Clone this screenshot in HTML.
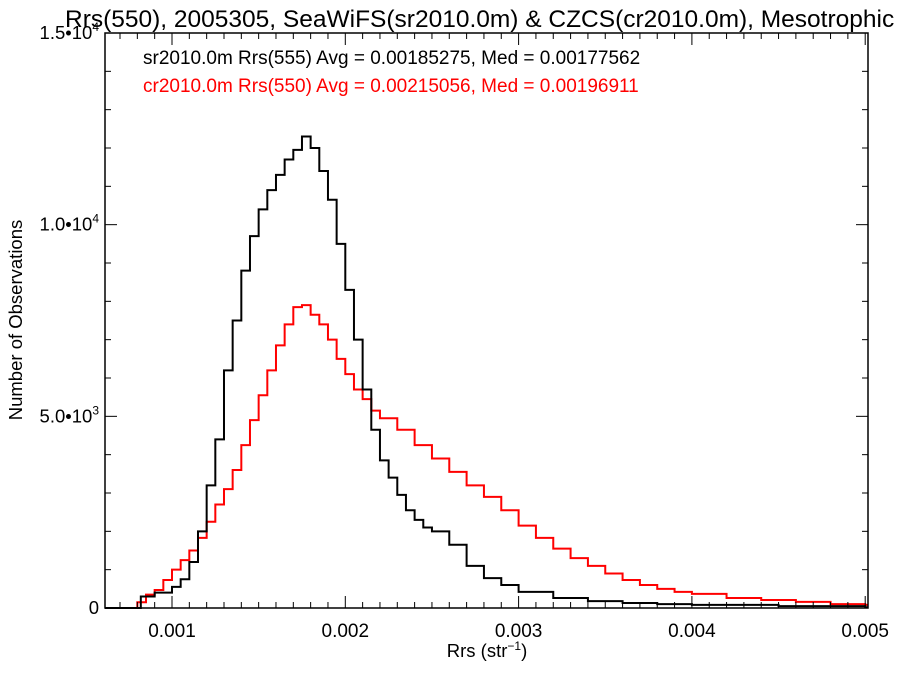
<!DOCTYPE html>
<html><head><meta charset="utf-8"><style>
body{margin:0;background:#fff;}
svg text{font-family:"Liberation Sans",sans-serif;}
</style></head><body>
<svg id="chart" width="900" height="675" viewBox="0 0 900 675" xmlns="http://www.w3.org/2000/svg">
<rect width="900" height="675" fill="#fff"/>
<text x="65" y="27" font-size="24.5" fill="#000">Rrs(550), 2005305, SeaWiFS(sr2010.0m) &amp; CZCS(cr2010.0m), Mesotrophic</text>
<g id="plot"></g>
<text x="143" y="64" font-size="19" fill="#000">sr2010.0m Rrs(555) Avg = 0.00185275, Med = 0.00177562</text>
<text x="143" y="92" font-size="19" fill="#ff0000">cr2010.0m Rrs(550) Avg = 0.00215056, Med = 0.00196911</text>
<text transform="translate(22,320) rotate(-90)" text-anchor="middle" font-size="18.5">Number of Observations</text>
<text x="487" y="657" text-anchor="middle" font-size="18.5">Rrs (str<tspan dy="-7" font-size="12">−1</tspan><tspan dy="7">)</tspan></text>
</svg>
<script>
const blackX=[0.0008,0.00082,0.0009,0.001,0.00105,0.0011,0.00115,0.0012,0.00125,0.0013,0.00135,0.0014,0.00145,0.0015,0.00155,0.0016,0.00165,0.0017,0.00175,0.0018,0.00185,0.0019,0.00195,0.002,0.00205,0.0021,0.00215,0.0022,0.00225,0.0023,0.00235,0.0024,0.00245,0.0025,0.0026,0.0027,0.0028,0.0029,0.003,0.0032,0.0034,0.0036,0.0038,0.004,0.0045,0.005];
const blackY=[0,300,400,550,750,1200,2000,3200,4400,6200,7500,8800,9700,10400,10900,11300,11700,11950,12300,12000,11400,10650,9500,8300,7000,5700,4650,3850,3400,2950,2550,2300,2100,2000,1650,1100,780,600,420,260,180,130,100,80,50,20];
const redX=[0.0008,0.00085,0.0009,0.00095,0.001,0.00105,0.0011,0.00115,0.0012,0.00125,0.0013,0.00135,0.0014,0.00145,0.0015,0.00155,0.0016,0.00165,0.0017,0.00175,0.0018,0.00185,0.0019,0.00195,0.002,0.00205,0.0021,0.00215,0.0022,0.0023,0.0024,0.0025,0.0026,0.0027,0.0028,0.0029,0.003,0.0031,0.0032,0.0033,0.0034,0.0035,0.0036,0.0037,0.0038,0.0039,0.004,0.0042,0.0044,0.0046,0.0048,0.005];
const redY=[150,350,470,730,1000,1250,1500,1830,2250,2700,3100,3600,4250,4900,5550,6200,6850,7400,7850,7900,7650,7400,7000,6500,6100,5700,5450,5150,4950,4650,4250,3900,3550,3200,2900,2550,2150,1830,1550,1300,1100,900,730,600,500,420,370,260,210,160,100,80];
const xTicks=[0.001,0.002,0.003,0.004,0.005];
const xTickLabels=["0.001","0.002","0.003","0.004","0.005"];
const yTicks=[0,5000,10000,15000];
const yTickLabels=[["0",""],["5.0•10","3"],["1.0•10","4"],["1.5•10","4"]];
const L=105,R=868,T=33,B=608;
const sx=v=>172+(v-0.001)*173300;
const sy=v=>B-(v/15000)*(B-T);
const NS="http://www.w3.org/2000/svg";
const g=document.getElementById('plot');
function mk(t,a){const e=document.createElementNS(NS,t);for(const k in a)e.setAttribute(k,a[k]);g.appendChild(e);return e;}
function steps(xs,ys,color,name){
  let d="M"+L+","+B+" L"+sx(xs[0])+","+B;
  for(let i=0;i<xs.length;i++){
    const x0=sx(xs[i]);const x1=i<xs.length-1?sx(xs[i+1]):R;
    d+=" L"+x0+","+sy(ys[i])+" L"+x1+","+sy(ys[i]);
  }
  const p=mk('path',{d:d,fill:'none',stroke:color,'stroke-width':2});
  
  
}
steps(redX,redY,'#ff0000','czcs-series');
steps(blackX,blackY,'#000000','seawifs-series');
const frame=mk('rect',{x:L,y:T,width:R-L,height:B-T,fill:'none',stroke:'#000','stroke-width':1.5});


for(let v=0.0007;v<=0.00501;v+=0.0001){
  const x=sx(v);if(x<L||x>R)continue;
  const major=Math.abs(v*1000-Math.round(v*1000))<1e-6;
  const len=major?12:6;
  mk('line',{x1:x,y1:B,x2:x,y2:B-len,stroke:'#000','stroke-width':1});
  mk('line',{x1:x,y1:T,x2:x,y2:T+len,stroke:'#000','stroke-width':1});
}
xTicks.forEach((v,i)=>{
  const t=mk('text',{x:sx(v),y:637,'text-anchor':'middle','font-size':19});
  t.textContent=xTickLabels[i];
  
  
});
for(let v=0;v<=15000;v+=1000){
  const y=sy(v);const major=v%5000===0;const len=major?12:6;
  mk('line',{x1:L,y1:y,x2:L+len,y2:y,stroke:'#000','stroke-width':1});
  mk('line',{x1:R,y1:y,x2:R-len,y2:y,stroke:'#000','stroke-width':1});
}
yTicks.forEach((v,i)=>{
  const t=mk('text',{x:99,y:sy(v)+6,'text-anchor':'end','font-size':18.5});
  
  
  const a=document.createElementNS(NS,'tspan');a.textContent=yTickLabels[i][0];t.appendChild(a);
  if(yTickLabels[i][1]){const b=document.createElementNS(NS,'tspan');b.setAttribute('dy','-8');b.setAttribute('font-size','12');b.textContent=yTickLabels[i][1];t.appendChild(b);}
});
</script>
</body></html>
